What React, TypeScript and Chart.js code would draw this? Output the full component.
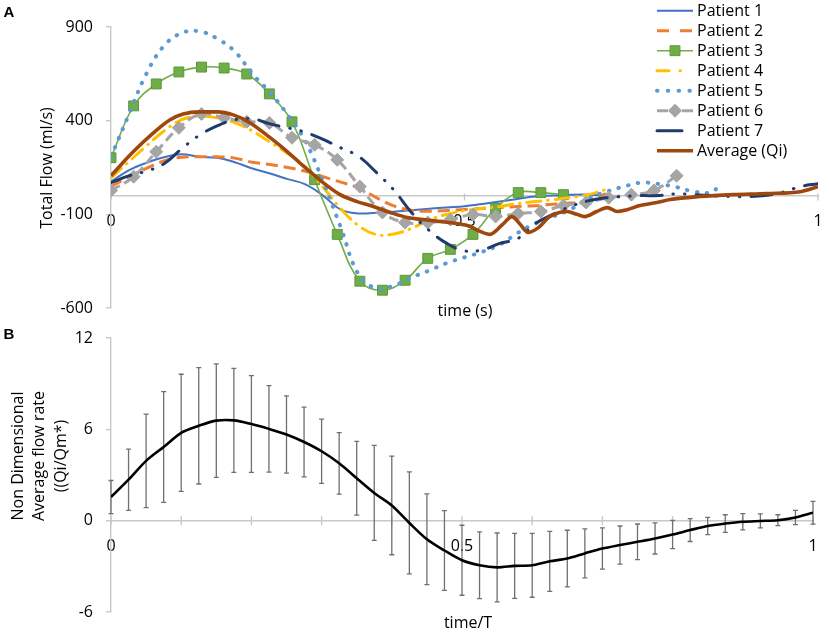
import { useEffect, useRef } from "react";
import { Chart, registerables } from "chart.js";

Chart.register(...registerables);

const FONT = "'Open Sans', sans-serif";
const AXIS_GRAY = "#C8C8C8";

// time grids (fraction of the cycle)
const gridT = [
  0, 0.025, 0.05, 0.075, 0.1, 0.125, 0.15, 0.175, 0.2, 0.225, 0.25, 0.275, 0.3,
  0.325, 0.35, 0.375, 0.4, 0.425, 0.45, 0.475, 0.5, 0.525, 0.55, 0.575, 0.6,
  0.625, 0.65, 0.675, 0.7, 0.725, 0.75, 0.775, 0.8, 0.825, 0.85, 0.875, 0.9,
  0.925, 0.95, 0.975, 1,
];
const markerT = [
  0, 0.032, 0.064, 0.096, 0.128, 0.16, 0.192, 0.224, 0.256, 0.288, 0.32, 0.352,
  0.384, 0.416, 0.448, 0.48, 0.512, 0.544, 0.576, 0.608, 0.64, 0.672, 0.704,
  0.736, 0.768, 0.8,
];

// Panel A - total flow (ml/s)
const p1Flow = [
  74, 135, 175, 205, 221, 207, 202, 178, 145, 118, 88, 60, 0, -75, -95, -91,
  -86, -78, -70, -63, -57, -45, -32, -18, -5, 0, 4, 5, 0,
];
const p2Flow = [
  48, 100, 145, 185, 205, 207, 207, 200, 178, 166, 150, 130, 101, 72, 42, -10,
  -55, -78, -84, -79, -74, -69, -64, -58, -54, -46, -40, -32, 10,
];
const p3Flow = [
  202, 479, 596, 660, 686, 681, 649, 543, 394, 85, -207, -457, -505, -452, -335,
  -287, -207, -69, 16, 16, 5,
];
const p4Flow = [
  95, 180, 265, 345, 405, 425, 415, 390, 345, 285, 225, 150, 45, -70, -160,
  -208, -205, -175, -130, -100, -80, -68, -58, -42, -32, -22, -10, 5, 32,
];
const p5T = [...gridT.slice(0, 35), 0.86];
const p5Flow = [
  207, 430, 650, 800, 868, 877, 838, 770, 650, 550, 431, 290, 74, -170, -420,
  -495, -480, -437, -400, -360, -330, -300, -262, -200, -149, -112, -74, -15,
  20, 48, 69, 62, 45, 21, 18, 58,
];
const p6Flow = [
  27, 101, 234, 362, 436, 415, 394, 388, 309, 271, 191, 48, -90, -144, -144,
  -128, -101, -112, -96, -85, -53, -37, -11, 5, 27, 106,
];
const p7Flow = [
  69, 105, 130, 170, 250, 322, 372, 405, 410, 383, 362, 338, 300, 255, 210, 125,
  30, -90, -186, -255, -295, -290, -255, -230, -150, -100, -58, -28, -12, -5, 0,
  0, 10, 5, 0, -5, -5, 0, 18, 48, 64,
];
const avgT = [
  0, 0.03, 0.06, 0.083, 0.102, 0.126, 0.15, 0.173, 0.197, 0.22, 0.243, 0.267,
  0.3, 0.324, 0.348, 0.371, 0.395, 0.419, 0.441, 0.465, 0.489, 0.508, 0.522,
  0.536, 0.554, 0.567, 0.578, 0.59, 0.603, 0.621, 0.645, 0.659, 0.67, 0.687,
  0.702, 0.716, 0.73, 0.748, 0.772, 0.791, 0.833, 0.88, 0.928, 0.975, 1,
];
const avgFlow = [
  106, 229, 335, 404, 436, 447, 447, 431, 388, 324, 255, 175, 69, 5, -32, -58,
  -90, -117, -128, -138, -149, -165, -191, -207, -154, -112, -150, -197, -175,
  -112, -85, -100, -112, -85, -64, -85, -75, -53, -37, -21, -5, 5, 11, 21, 48,
];

// Panel B - non dimensional average flow rate, mean and error half-width
const meanRate = [
  1.55, 2.69, 3.93, 4.84, 5.77, 6.23, 6.57, 6.59, 6.35, 6.03, 5.66, 5.17, 4.56,
  3.77, 2.79, 1.82, 1.0, -0.15, -1.22, -1.96, -2.6, -2.93, -3.07, -2.97, -2.93,
  -2.67, -2.49, -2.15, -1.83, -1.6, -1.39, -1.17, -0.91, -0.62, -0.35, -0.19,
  -0.07, -0.02, 0.03, 0.21, 0.52,
];
const meanErr = [
  1.09, 2.01, 3.07, 3.64, 3.85, 3.82, 3.73, 3.42, 3.18, 2.84, 2.54, 2.29, 2.11,
  2.02, 2.42, 3.12, 3.24, 3.35, 2.98, 2.62, 2.3, 2.19, 2.26, 2.14, 2.1, 1.97,
  1.86, 1.61, 1.35, 1.25, 1.17, 1.02, 0.93, 0.75, 0.57, 0.58, 0.53, 0.46, 0.36,
  0.47, 0.75,
];

const xTickLabels = ["0", "0.5", "1"];

type Style = {
  color: string;
  width: number;
  dash: number[];
  cap: CanvasLineCap;
  legendDash: number[];
  legendEnd?: number;
  marker?: "rect" | "rectRot";
  markerRadius?: number;
  markerBorder?: string;
};

const series: { label: string; t: number[]; v: number[]; style: Style }[] = [
  {
    label: "Patient 1",
    t: gridT.slice(0, 29),
    v: p1Flow,
    style: { color: "#4472C4", width: 2, dash: [], cap: "butt", legendDash: [] },
  },
  {
    label: "Patient 2",
    t: gridT.slice(0, 29),
    v: p2Flow,
    style: { color: "#ED7D31", width: 3, dash: [12, 6], cap: "butt", legendDash: [12, 11] },
  },
  {
    label: "Patient 3",
    t: markerT.slice(0, 21),
    v: p3Flow,
    style: {
      color: "#70AD47", width: 1.6, dash: [], cap: "butt", legendDash: [],
      marker: "rect", markerRadius: 7, markerBorder: "#5A9A3A",
    },
  },
  {
    label: "Patient 4",
    t: gridT.slice(0, 29),
    v: p4Flow,
    style: { color: "#FFC000", width: 3, dash: [14, 7, 0.5, 7], cap: "round", legendDash: [12, 11, 0.5, 30] },
  },
  {
    label: "Patient 5",
    t: p5T,
    v: p5Flow,
    style: { color: "#5B9BD5", width: 4, dash: [0.5, 9.5], cap: "round", legendDash: [0.5, 10.3] },
  },
  {
    label: "Patient 6",
    t: markerT,
    v: p6Flow,
    style: {
      color: "#A5A5A5", width: 3, dash: [10, 5], cap: "butt", legendDash: [11, 14],
      marker: "rectRot", markerRadius: 6.5, markerBorder: "#A5A5A5",
    },
  },
  {
    label: "Patient 7",
    t: gridT,
    v: p7Flow,
    style: { color: "#203A6E", width: 3, dash: [21, 11, 0.5, 11, 0.5, 11], cap: "round", legendDash: [], legendEnd: 682 },
  },
  {
    label: "Average (Qi)",
    t: avgT,
    v: avgFlow,
    style: { color: "#9E480E", width: 3.6, dash: [], cap: "butt", legendDash: [] },
  },
];

function drawText(
  ctx: CanvasRenderingContext2D,
  text: string,
  x: number,
  y: number,
  font: string,
  rotate = false
) {
  ctx.save();
  ctx.font = font;
  ctx.fillStyle = "#000";
  ctx.textAlign = "center";
  ctx.textBaseline = "middle";
  ctx.translate(x, y);
  if (rotate) ctx.rotate(-Math.PI / 2);
  ctx.fillText(text, 0, 0);
  ctx.restore();
}

function drawMarker(ctx: CanvasRenderingContext2D, s: Style, x: number, y: number) {
  const r = s.markerRadius ?? 5;
  ctx.save();
  ctx.setLineDash([]);
  ctx.fillStyle = s.color;
  ctx.strokeStyle = s.markerBorder ?? s.color;
  ctx.lineWidth = 1;
  ctx.beginPath();
  if (s.marker === "rect") {
    const h = r * Math.SQRT1_2;
    ctx.rect(x - h, y - h, 2 * h, 2 * h);
  } else {
    ctx.moveTo(x - r, y);
    ctx.lineTo(x, y - r);
    ctx.lineTo(x + r, y);
    ctx.lineTo(x, y + r);
    ctx.closePath();
  }
  ctx.fill();
  ctx.stroke();
  ctx.restore();
}

// x axis crosses at y = 0: draw tick marks through the axis line
function crossTicks(up: number, down: number) {
  return {
    id: "crossTicks",
    beforeDatasetsDraw(chart: Chart) {
      const { ctx } = chart;
      const x = chart.scales.x;
      const y0 = chart.scales.y.getPixelForValue(0);
      ctx.save();
      ctx.strokeStyle = AXIS_GRAY;
      ctx.lineWidth = 1.4;
      x.ticks.forEach((tk) => {
        const px = x.getPixelForValue(tk.value);
        ctx.beginPath();
        ctx.moveTo(px, y0 - up);
        ctx.lineTo(px, y0 + down);
        ctx.stroke();
      });
      ctx.restore();
    },
  };
}

function xTickCallback(value: number | string) {
  const v = Number(value);
  const label = xTickLabels.find((l) => Math.abs(Number(l) - v) < 1e-6);
  return label ?? "";
}

const legendPlugin = {
  id: "customLegend",
  afterDraw(chart: Chart) {
    const { ctx } = chart;
    series.forEach((s, i) => {
      const y = 10.7 + 20 * i;
      const st = s.style;
      ctx.save();
      ctx.strokeStyle = st.color;
      ctx.lineWidth = st.width;
      ctx.lineCap = st.cap;
      ctx.setLineDash(st.legendDash);
      ctx.beginPath();
      ctx.moveTo(657, y);
      ctx.lineTo(st.legendEnd ?? 693, y);
      ctx.stroke();
      ctx.restore();
      if (st.marker) drawMarker(ctx, st, 675, y);
      ctx.save();
      ctx.font = `16px ${FONT}`;
      ctx.fillStyle = "#000";
      ctx.textAlign = "left";
      ctx.textBaseline = "middle";
      ctx.fillText(s.label, 697, y + 1);
      ctx.restore();
    });
  },
};

const titlesA = {
  id: "titlesA",
  afterDraw(chart: Chart) {
    const { ctx } = chart;
    drawText(ctx, "A", 9, 13, `bold 15px 'Liberation Sans', sans-serif`);
    drawText(ctx, "Total Flow (ml/s)", 47, 168, `16px ${FONT}`, true);
    drawText(ctx, "time (s)", 465, 311, `16px ${FONT}`);
  },
};

const titlesB = {
  id: "titlesB",
  afterDraw(chart: Chart) {
    const { ctx } = chart;
    drawText(ctx, "B", 9, 15, `bold 15px 'Liberation Sans', sans-serif`);
    drawText(ctx, "Non Dimensional", 18, 136, `16px ${FONT}`, true);
    drawText(ctx, "Average flow rate", 39.5, 136, `16px ${FONT}`, true);
    drawText(ctx, "((Qi/Qm*)", 61, 136, `16px ${FONT}`, true);
    drawText(ctx, "time/T", 468, 303, `16px ${FONT}`);
  },
};

const errorBars = {
  id: "errorBars",
  beforeDatasetsDraw(chart: Chart) {
    const { ctx } = chart;
    const x = chart.scales.x;
    const y = chart.scales.y;
    ctx.save();
    ctx.strokeStyle = "#707070";
    ctx.lineWidth = 1.3;
    gridT.forEach((t, i) => {
      const px = x.getPixelForValue(t);
      const hi = y.getPixelForValue(meanRate[i] + meanErr[i]);
      const lo = y.getPixelForValue(meanRate[i] - meanErr[i]);
      ctx.beginPath();
      ctx.moveTo(px, hi);
      ctx.lineTo(px, lo);
      ctx.moveTo(px - 2.5, hi);
      ctx.lineTo(px + 2.5, hi);
      ctx.moveTo(px - 2.5, lo);
      ctx.lineTo(px + 2.5, lo);
      ctx.stroke();
    });
    ctx.restore();
  },
};

function yAxis(min: number, max: number, step: number) {
  return {
    type: "linear" as const,
    min,
    max,
    afterFit: (scale: any) => {
      scale.width = 111;
      scale.paddingTop = 0;
      scale.paddingBottom = 0;
    },
    ticks: {
      stepSize: step,
      padding: 13,
      color: "#000",
      font: { family: FONT, size: 16 },
      callback: (v: number | string) => String(v),
    },
    grid: {
      drawOnChartArea: false,
      drawTicks: true,
      tickLength: 5,
      color: AXIS_GRAY,
      lineWidth: 1.4,
    },
    border: { color: AXIS_GRAY, width: 1.4 },
  };
}

function xAxis(step: number) {
  return {
    type: "linear" as const,
    position: { y: 0 },
    min: 0,
    max: 1,
    afterFit: (scale: any) => {
      scale.paddingLeft = 0;
      scale.paddingRight = 0;
    },
    ticks: {
      stepSize: step,
      autoSkip: false,
      padding: 8,
      color: "#000",
      font: { family: FONT, size: 16 },
      callback: xTickCallback,
    },
    grid: { display: false },
    border: { color: AXIS_GRAY, width: 1.6 },
  };
}

export default function App() {
  const topRef = useRef<HTMLCanvasElement>(null);
  const bottomRef = useRef<HTMLCanvasElement>(null);

  useEffect(() => {
    if (!topRef.current || !bottomRef.current) return;

    const top = new Chart(topRef.current, {
      type: "line",
      data: {
        datasets: series.map((s, i) => ({
          label: s.label,
          data: s.t.map((t, k) => ({ x: t, y: s.v[k] })),
          borderColor: s.style.color,
          borderWidth: s.style.width,
          borderDash: s.style.dash,
          borderCapStyle: s.style.cap,
          fill: false,
          tension: 0.4,
          cubicInterpolationMode: s.label.startsWith("Average") ? "monotone" : "default",
          pointRadius: s.style.marker ? s.style.markerRadius : 0,
          pointStyle: s.style.marker ?? "circle",
          pointBackgroundColor: s.style.color,
          pointBorderColor: s.style.markerBorder ?? s.style.color,
          pointBorderWidth: 1,
          order: series.length - i,
        })),
      },
      options: {
        animation: false,
        responsive: true,
        maintainAspectRatio: false,
        events: [],
        layout: { padding: { left: 0, top: 27, right: 11, bottom: 12 } },
        plugins: { legend: { display: false }, tooltip: { enabled: false } },
        scales: {
          x: xAxis(0.5),
          y: yAxis(-600, 900, 500),
        },
      },
      plugins: [crossTicks(2, 5), legendPlugin, titlesA],
    });

    const bottom = new Chart(bottomRef.current, {
      type: "line",
      data: {
        datasets: [
          {
            label: "Average",
            data: gridT.map((t, k) => ({ x: t, y: meanRate[k] })),
            borderColor: "#000",
            borderWidth: 2.6,
            fill: false,
            tension: 0.3,
            pointRadius: 0,
          },
        ],
      },
      options: {
        animation: false,
        responsive: true,
        maintainAspectRatio: false,
        events: [],
        layout: { padding: { left: 0, top: 18, right: 16, bottom: 26 } },
        plugins: { legend: { display: false }, tooltip: { enabled: false } },
        scales: {
          x: xAxis(0.1),
          y: yAxis(-6, 12, 6),
        },
      },
      plugins: [crossTicks(4.5, 4.5), errorBars, titlesB],
    });

    return () => {
      top.destroy();
      bottom.destroy();
    };
  }, []);

  return (
    <div
      style={{
        position: "absolute",
        left: 0,
        top: 0,
        width: 829,
        height: 638,
        background: "#fff",
      }}
    >
      <div style={{ position: "absolute", left: 0, top: 0, width: 829, height: 320 }}>
        <canvas ref={topRef} />
      </div>
      <div style={{ position: "absolute", left: 0, top: 320, width: 829, height: 318 }}>
        <canvas ref={bottomRef} />
      </div>
    </div>
  );
}
